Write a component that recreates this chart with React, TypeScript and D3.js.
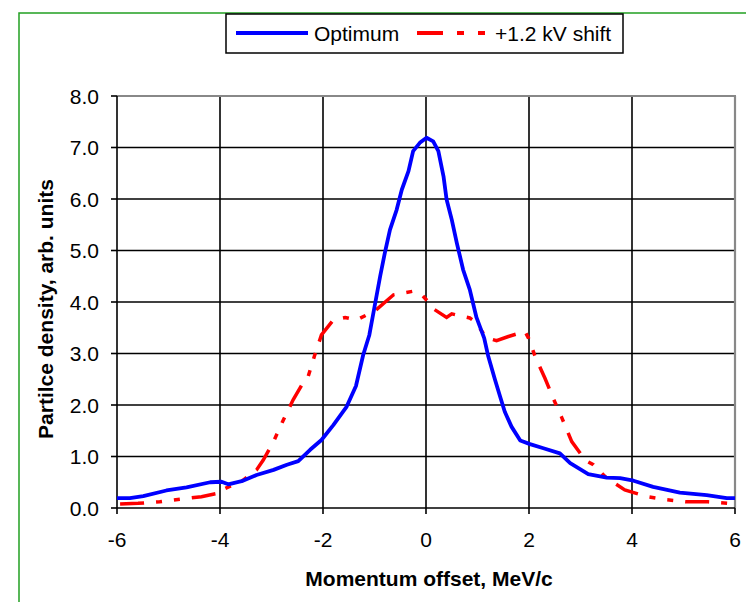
import React from "react";
import * as d3 from "d3";

// Optimum (blue) curve: [momentum offset MeV/c, density]
const optimumX = [-6.0, -5.75, -5.49, -5.04, -4.65, -4.19, -3.97, -3.84, -3.58, -3.29, -2.96, -2.70, -2.48, -2.25, -2.03, -1.80, -1.54, -1.36, -1.22, -1.10, -1.01, -0.89, -0.80, -0.70, -0.57, -0.47, -0.34, -0.25, -0.12, 0.01, 0.14, 0.24, 0.34, 0.40, 0.50, 0.60, 0.72, 0.85, 0.98, 1.13, 1.21, 1.34, 1.44, 1.53, 1.66, 1.83, 2.02, 2.28, 2.60, 2.80, 3.15, 3.51, 3.77, 4.03, 4.41, 4.93, 5.45, 5.84, 6.0];
const optimumY = [0.19, 0.19, 0.23, 0.34, 0.40, 0.50, 0.51, 0.46, 0.52, 0.64, 0.74, 0.84, 0.91, 1.13, 1.32, 1.61, 1.97, 2.37, 2.97, 3.36, 3.85, 4.50, 4.95, 5.40, 5.79, 6.18, 6.54, 6.93, 7.09, 7.19, 7.12, 6.93, 6.44, 5.99, 5.60, 5.14, 4.63, 4.24, 3.70, 3.30, 2.94, 2.49, 2.16, 1.87, 1.58, 1.31, 1.24, 1.16, 1.06, 0.87, 0.66, 0.59, 0.58, 0.53, 0.41, 0.30, 0.25, 0.19, 0.19];

// +1.2 kV shift (red dashed) curve
const shiftX = [-5.94, -5.59, -5.17, -4.78, -4.36, -3.97, -3.90, -3.55, -3.29, -3.16, -2.96, -2.77, -2.58, -2.41, -2.29, -2.16, -2.03, -1.80, -1.57, -1.35, -0.99, -0.63, -0.25, -0.08, 0.08, 0.14, 0.40, 0.50, 0.85, 0.95, 1.18, 1.37, 1.60, 1.92, 1.99, 2.12, 2.31, 2.47, 2.63, 2.83, 3.09, 3.25, 3.51, 3.86, 4.29, 4.67, 5.06, 5.48, 5.90, 6.0];
const shiftY = [0.08, 0.09, 0.12, 0.17, 0.22, 0.30, 0.38, 0.54, 0.74, 0.93, 1.29, 1.71, 2.10, 2.39, 2.55, 2.97, 3.36, 3.65, 3.70, 3.65, 3.83, 4.14, 4.21, 4.14, 3.96, 3.87, 3.70, 3.77, 3.69, 3.62, 3.30, 3.25, 3.33, 3.43, 3.30, 2.94, 2.52, 2.13, 1.77, 1.29, 0.93, 0.84, 0.58, 0.35, 0.22, 0.16, 0.12, 0.12, 0.09, 0.08];

const xTicks = [-6, -4, -2, 0, 2, 4, 6];
const yTicks = [0, 1, 2, 3, 4, 5, 6, 7, 8];

const seriesNames = ["Optimum", "+1.2 kV shift"];

const FONT = "'Liberation Sans', Arial, Helvetica, sans-serif";
const RED_DASH = "24,12,6,12,6,12";

export default function App() {
  const W = 746;
  const H = 602;
  const x = d3.scaleLinear().domain([-6, 6]).range([117, 735]);
  const y = d3.scaleLinear().domain([0, 8]).range([508, 96]);

  const line = d3
    .line<[number, number]>()
    .x((d) => x(d[0]))
    .y((d) => y(d[1]));

  const optData: [number, number][] = optimumX.map((v, i) => [v, optimumY[i]]);
  const shiftData: [number, number][] = shiftX.map((v, i) => [v, shiftY[i]]);

  const [x0, x1] = x.range();
  const [yb, yt] = y.range();

  return (
    <svg
      width={W}
      height={H}
      style={{ position: "absolute", left: 0, top: 0, background: "#fff" }}
    >
      <rect x={0} y={0} width={W} height={H} fill="#fff" />
      {/* green outer frame */}
      <rect x={19} y={13} width={W + 20} height={H + 20} fill="none" stroke="#22a022" strokeWidth={1.5} />

      {/* gridlines */}
      {yTicks
        .filter((t) => t > 0 && t < 8)
        .map((t) => (
          <line key={"gy" + t} x1={x0} x2={x1} y1={y(t)} y2={y(t)} stroke="#000" strokeWidth={1.6} />
        ))}
      {xTicks
        .filter((t) => t > -6 && t < 6)
        .map((t) => (
          <line key={"gx" + t} x1={x(t)} x2={x(t)} y1={yt} y2={yb} stroke="#000" strokeWidth={1.6} />
        ))}

      {/* plot frame top/right gray */}
      <line x1={x0} x2={x1 + 1} y1={yt} y2={yt} stroke="#888" strokeWidth={2.2} />
      <line x1={x1} x2={x1} y1={yt} y2={yb} stroke="#888" strokeWidth={2.2} />

      {/* axes */}
      <line x1={x0} x2={x0} y1={yt} y2={yb} stroke="#000" strokeWidth={1.6} />
      <line x1={x0} x2={x1} y1={yb} y2={yb} stroke="#000" strokeWidth={1.6} />
      {yTicks.map((t) => (
        <g key={"yt" + t}>
          <line x1={x0 - 6} x2={x0} y1={y(t)} y2={y(t)} stroke="#000" strokeWidth={1.6} />
          <text
            x={99}
            y={y(t)}
            dy="0.36em"
            textAnchor="end"
            fontFamily={FONT}
            fontSize={21}
            fill="#000"
          >
            {t.toFixed(1)}
          </text>
        </g>
      ))}
      {xTicks.map((t) => (
        <g key={"xt" + t}>
          <line x1={x(t)} x2={x(t)} y1={yb} y2={yb + 6} stroke="#000" strokeWidth={1.6} />
          <text x={x(t)} y={547} textAnchor="middle" fontFamily={FONT} fontSize={21} fill="#000">
            {t}
          </text>
        </g>
      ))}

      {/* series */}
      <path d={line(shiftData) || ""} fill="none" stroke="#ff0000" strokeWidth={3.5} strokeDasharray={RED_DASH} />
      <path d={line(optData) || ""} fill="none" stroke="#0000ff" strokeWidth={3.8} strokeLinejoin="round" />

      {/* axis titles */}
      <text x={429} y={586} textAnchor="middle" fontFamily={FONT} fontSize={21} fontWeight="bold" fill="#000">
        Momentum offset, MeV/c
      </text>
      <text
        transform={`translate(53,309) rotate(-90)`}
        textAnchor="middle"
        fontFamily={FONT}
        fontSize={21}
        fontWeight="bold"
        fill="#000"
      >
        Partilce density, arb. units
      </text>

      {/* legend */}
      <rect x={226} y={14} width={397} height={39} fill="#fff" stroke="#000" strokeWidth={1.5} />
      <line x1={236} x2={308} y1={33} y2={33} stroke="#0000ff" strokeWidth={3.8} />
      <text x={314} y={41} fontFamily={FONT} fontSize={21} fill="#000">
        {seriesNames[0]}
      </text>
      <line x1={417} x2={487} y1={33} y2={33} stroke="#ff0000" strokeWidth={3.8} strokeDasharray="26,14,7,14,7,14" />
      <text x={495} y={41} fontFamily={FONT} fontSize={21} fill="#000">
        {seriesNames[1]}
      </text>
    </svg>
  );
}
